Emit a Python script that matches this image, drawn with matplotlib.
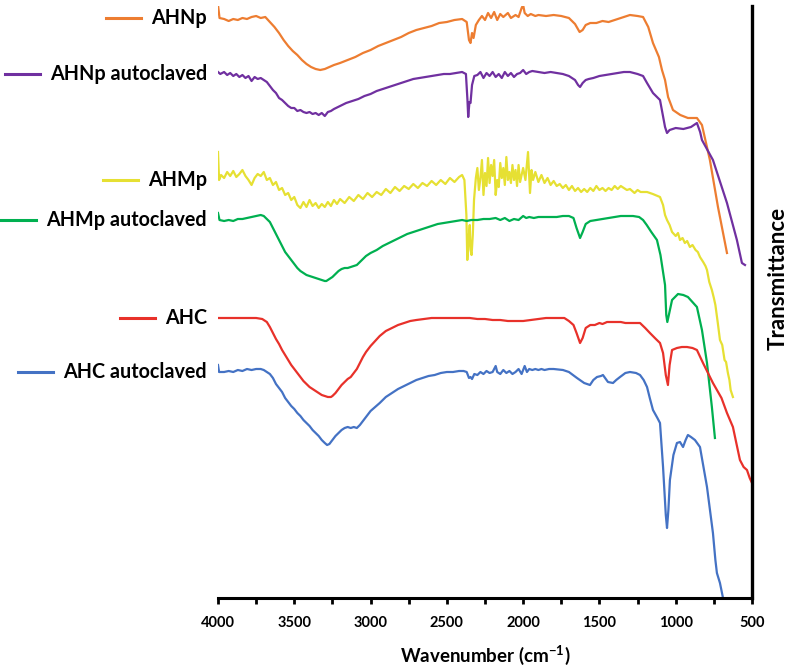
import matplotlib
matplotlib.use("Agg")
import matplotlib.pyplot as plt
import matplotlib.transforms as mtransforms
from matplotlib.lines import Line2D
from matplotlib.ticker import MultipleLocator

plt.rcParams['font.family'] = ['Lato', 'DejaVu Sans']
plt.rcParams['mathtext.fontset'] = 'custom'
plt.rcParams['mathtext.rm'] = 'Lato'
plt.rcParams['mathtext.bf'] = 'Lato:bold'

# ---------------- data (wavenumber cm-1, transmittance arbitrary units) ----------------
ahnp_wn = [4000, 3990, 3960, 3930, 3900, 3870, 3840, 3810, 3780, 3750, 3720, 3690, 3660, 3630, 3600, 3570,
           3540, 3510, 3480, 3450, 3420, 3390, 3360, 3330, 3300, 3270, 3240, 3200, 3150, 3100, 3050, 3000,
           2950, 2900, 2850, 2800, 2750, 2700, 2650, 2600, 2550, 2500, 2450, 2400, 2370, 2355, 2345, 2335,
           2325, 2310, 2290, 2270, 2250, 2230, 2210, 2190, 2170, 2150, 2130, 2100, 2080, 2050, 2030, 2010,
           2000, 1990, 1970, 1950, 1920, 1900, 1850, 1800, 1750, 1700, 1660, 1630, 1610, 1590, 1560, 1520,
           1480, 1440, 1400, 1360, 1320, 1300, 1250, 1214, 1180, 1149, 1110, 1090, 1070, 1050, 1018, 970,
           920, 861, 828, 776, 723, 664]
ahnp_t = [593, 580, 579, 577, 579, 578, 580, 579, 581, 582, 580, 581, 576, 571, 565, 558,
          552, 547, 543, 538, 534, 531, 529, 528, 529, 531, 533, 535, 538, 541, 545, 548,
          552, 555, 558, 561, 565, 568, 570, 572, 575, 576, 578, 579, 576, 558, 555, 565,
          560, 573, 578, 582, 578, 585, 580, 586, 578, 584, 581, 585, 580, 583, 581, 590,
          593, 585, 582, 584, 582, 583, 582, 583, 582, 580, 574, 566, 568, 573, 575, 575,
          577, 576, 578, 580, 582, 583, 582, 581, 571, 555, 541, 528, 518, 501, 488, 483,
          480, 480, 473, 438, 391, 345]

ahnp_auto_wn = [4000, 3985, 3960, 3940, 3920, 3900, 3880, 3860, 3840, 3820, 3800, 3780, 3760, 3740, 3720, 3700,
                3680, 3660, 3640, 3620, 3600, 3580, 3560, 3540, 3520, 3500, 3480, 3460, 3440, 3420, 3400, 3380,
                3360, 3340, 3320, 3300, 3280, 3260, 3240, 3200, 3160, 3120, 3080, 3040, 3000, 2960, 2920, 2880,
                2840, 2800, 2760, 2720, 2680, 2640, 2600, 2560, 2520, 2480, 2440, 2400, 2375, 2365, 2360, 2352,
                2345, 2335, 2320, 2300, 2280, 2260, 2240, 2220, 2200, 2180, 2160, 2140, 2120, 2100, 2080, 2060,
                2040, 2020, 2000, 1980, 1960, 1940, 1900, 1860, 1820, 1780, 1740, 1700, 1660, 1640, 1627, 1610,
                1590, 1570, 1540, 1500, 1460, 1420, 1380, 1340, 1300, 1250, 1214, 1188, 1149, 1103, 1070, 1057,
                1040, 1000, 950, 900, 861, 840, 828, 756, 664, 599, 566, 546]
ahnp_auto_t = [526, 524, 526, 523, 525, 522, 524, 521, 523, 520, 522, 517, 521, 519, 520, 518,
               516, 512, 508, 505, 500, 498, 495, 492, 490, 490, 487, 488, 486, 485, 486, 484,
               485, 483, 485, 482, 486, 487, 489, 492, 495, 497, 499, 502, 504, 507, 509, 511,
               513, 515, 517, 519, 520, 521, 522, 523, 524, 524, 525, 526, 524, 498, 481, 496,
               495, 513, 522, 523, 526, 520, 525, 522, 526, 521, 524, 520, 526, 522, 525, 521,
               524, 525, 528, 524, 526, 527, 526, 525, 526, 525, 524, 522, 518, 513, 511, 515,
               518, 519, 520, 522, 523, 524, 525, 526, 526, 524, 522, 515, 505, 498, 471, 465,
               468, 470, 469, 471, 475, 466, 458, 438, 395, 358, 335, 333]

ahmp_wn = [4000, 3993, 3980, 3960, 3940, 3920, 3900, 3880, 3860, 3840, 3820, 3800, 3780, 3760, 3740, 3720,
           3700, 3680, 3660, 3640, 3620, 3600, 3580, 3560, 3540, 3520, 3500, 3480, 3460, 3440, 3420, 3400,
           3380, 3360, 3340, 3320, 3300, 3280, 3260, 3240, 3220, 3200, 3170, 3140, 3110, 3080, 3050, 3020,
           2990, 2960, 2930, 2900, 2870, 2840, 2810, 2780, 2750, 2720, 2690, 2660, 2630, 2600, 2570, 2540,
           2510, 2480, 2450, 2420, 2400, 2385, 2372, 2366, 2358, 2350, 2345, 2338, 2330, 2322, 2310, 2300,
           2290, 2280, 2270, 2260, 2250, 2240, 2230, 2220, 2210, 2200, 2190, 2180, 2170, 2160, 2150, 2140,
           2130, 2120, 2110, 2100, 2090, 2080, 2070, 2060, 2050, 2040, 2030, 2020, 2010, 2000, 1985, 1968,
           1955, 1945, 1935, 1920, 1900, 1880, 1860, 1840, 1820, 1800, 1780, 1760, 1740, 1720, 1700, 1680,
           1660, 1640, 1620, 1600, 1580, 1560, 1540, 1520, 1500, 1480, 1460, 1440, 1420, 1400, 1380, 1360,
           1340, 1320, 1300, 1270, 1250, 1230, 1188, 1150, 1103, 1083, 1070, 1057, 1040, 1024, 1000, 985,
           972, 955, 940, 925, 907, 890, 870, 855, 841, 820, 805, 795, 780, 763, 750, 740,
           725, 710, 695, 680, 670, 658, 648, 640, 625]
ahmp_t = [446, 418, 423, 420, 426, 422, 427, 421, 424, 428, 422, 418, 413, 420, 424, 422,
          426, 418, 420, 413, 416, 408, 410, 403, 405, 398, 401, 393, 390, 396, 391, 398,
          392, 395, 390, 394, 391, 396, 392, 398, 394, 399, 395, 401, 397, 403, 399, 405,
          401, 406, 403, 409, 405, 411, 407, 412, 409, 414, 410, 415, 412, 417, 413, 418,
          414, 420, 416, 421, 423, 418, 383, 338, 358, 373, 348, 343, 363, 398, 420, 430,
          408, 420, 438, 403, 425, 412, 440, 415, 433, 422, 438, 403, 418, 411, 435, 420,
          430, 413, 441, 418, 426, 415, 433, 418, 428, 412, 433, 416, 423, 430, 418, 446,
          405, 428, 418, 426, 416, 423, 415, 420, 413, 417, 412, 414, 410, 413, 408, 412,
          407, 410, 406, 409, 406, 410, 407, 412, 408, 410, 407, 410, 408, 412, 409, 412,
          410, 408, 409, 405, 408, 406, 406, 404, 401, 393, 383, 378, 373, 366, 362, 365,
          358, 360, 355, 357, 351, 353, 348, 346, 341, 336, 332, 328, 316, 308, 300, 293,
          276, 258, 253, 238, 236, 225, 218, 208, 201]

ahmp_auto_wn = [4000, 3990, 3960, 3930, 3900, 3870, 3840, 3810, 3780, 3750, 3720, 3700, 3680, 3660, 3640, 3620,
                3600, 3580, 3560, 3540, 3520, 3500, 3480, 3460, 3440, 3420, 3400, 3380, 3360, 3340, 3320, 3300,
                3290, 3270, 3250, 3230, 3210, 3190, 3170, 3150, 3130, 3110, 3090, 3070, 3050, 3030, 3000, 2960,
                2920, 2880, 2840, 2800, 2760, 2720, 2680, 2640, 2600, 2560, 2520, 2480, 2440, 2400, 2370, 2340,
                2300, 2260, 2220, 2180, 2150, 2120, 2090, 2060, 2030, 2000, 1980, 1960, 1930, 1900, 1860, 1820,
                1780, 1740, 1700, 1670, 1650, 1627, 1610, 1590, 1560, 1520, 1480, 1440, 1400, 1360, 1320, 1280,
                1240, 1214, 1190, 1160, 1123, 1100, 1085, 1070, 1062, 1055, 1045, 1024, 985, 950, 920, 861,
                828, 795, 763, 743]
ahmp_auto_t = [385, 378, 377, 378, 377, 379, 379, 380, 381, 382, 383, 382, 379, 376, 370, 364,
               358, 352, 346, 342, 338, 334, 330, 327, 325, 323, 322, 321, 320, 319, 318, 317,
               317, 319, 321, 324, 327, 329, 330, 330, 331, 332, 333, 336, 339, 342, 345, 348,
               352, 355, 358, 361, 364, 366, 368, 370, 372, 374, 375, 376, 377, 378, 377, 378,
               378, 379, 379, 380, 378, 380, 377, 379, 378, 382, 380, 381, 380, 381, 381, 381,
               381, 382, 382, 380, 370, 360, 366, 374, 377, 378, 379, 380, 381, 382, 382, 382,
               381, 378, 373, 366, 358, 343, 328, 313, 283, 276, 283, 298, 304, 303, 301, 291,
               268, 235, 191, 160]

ahc_wn = [4000, 3950, 3900, 3850, 3800, 3750, 3710, 3680, 3660, 3640, 3620, 3600, 3580, 3560, 3540, 3520,
          3500, 3480, 3460, 3440, 3420, 3400, 3380, 3360, 3340, 3320, 3300, 3280, 3260, 3250, 3230, 3210,
          3190, 3170, 3150, 3130, 3110, 3090, 3070, 3050, 3030, 3000, 2970, 2940, 2900, 2860, 2820, 2780,
          2740, 2700, 2650, 2600, 2550, 2500, 2450, 2400, 2350, 2300, 2250, 2200, 2150, 2100, 2050, 2000,
          1950, 1900, 1850, 1800, 1760, 1730, 1700, 1670, 1650, 1627, 1610, 1590, 1560, 1530, 1500, 1480,
          1450, 1420, 1390, 1360, 1330, 1300, 1234, 1200, 1169, 1130, 1103, 1083, 1065, 1051, 1040, 1024,
          992, 960, 926, 890, 861, 821, 756, 700, 664, 625, 600, 579, 555, 533, 515, 500]
ahc_t = [280, 280, 280, 280, 280, 280, 279, 276, 271, 265, 259, 254, 248, 243, 238, 233,
         229, 225, 221, 217, 214, 211, 209, 207, 205, 203, 202, 201, 201, 202, 205, 209,
         213, 216, 219, 221, 225, 229, 235, 241, 246, 252, 257, 262, 267, 270, 273, 275,
         277, 278, 279, 280, 280, 280, 280, 280, 280, 279, 279, 278, 278, 277, 277, 277,
         278, 279, 280, 280, 280, 280, 277, 273, 265, 255, 260, 270, 273, 273, 275, 274,
         276, 276, 276, 276, 275, 275, 275, 270, 265, 259, 255, 245, 223, 213, 233, 248,
         250, 251, 251, 250, 248, 235, 215, 200, 185, 171, 153, 138, 131, 128, 120, 115]

ahc_auto_wn = [4000, 3993, 3960, 3930, 3900, 3870, 3840, 3810, 3780, 3750, 3720, 3700, 3680, 3660, 3640, 3620,
               3600, 3580, 3560, 3540, 3520, 3500, 3480, 3460, 3440, 3420, 3400, 3380, 3360, 3340, 3320, 3300,
               3285, 3270, 3250, 3230, 3210, 3190, 3170, 3150, 3130, 3110, 3090, 3070, 3050, 3030, 3000, 2970,
               2940, 2900, 2860, 2820, 2780, 2740, 2700, 2660, 2620, 2580, 2540, 2500, 2460, 2420, 2390, 2370,
               2355, 2345, 2335, 2320, 2300, 2280, 2260, 2240, 2220, 2200, 2180, 2170, 2150, 2130, 2110, 2090,
               2070, 2050, 2030, 2010, 1990, 1975, 1960, 1940, 1920, 1900, 1880, 1860, 1830, 1800, 1739, 1700,
               1647, 1600, 1562, 1540, 1516, 1490, 1477, 1444, 1411, 1390, 1365, 1330, 1300, 1260, 1234, 1210,
               1188, 1170, 1149, 1120, 1103, 1083, 1065, 1057, 1048, 1038, 1015, 992, 972, 952, 935, 920,
               900, 874, 841, 820, 795, 756, 740, 730, 710, 690]
ahc_auto_t = [233, 226, 226, 227, 226, 228, 227, 229, 228, 229, 229, 228, 226, 224, 220, 214,
              210, 206, 200, 196, 192, 189, 185, 182, 178, 175, 172, 168, 165, 162, 158, 155,
              153, 154, 158, 162, 165, 168, 170, 171, 170, 171, 170, 173, 177, 181, 187, 191,
              195, 201, 205, 209, 212, 215, 218, 220, 222, 223, 225, 226, 226, 227, 227, 226,
              220, 221, 219, 224, 223, 226, 224, 227, 225, 226, 232, 226, 224, 228, 225, 227,
              224, 226, 229, 224, 232, 226, 229, 228, 229, 228, 229, 228, 229, 229, 228, 226,
              220, 215, 213, 218, 221, 222, 223, 216, 215, 218, 221, 225, 226, 225, 223, 218,
              211, 200, 188, 180, 175, 131, 83, 70, 88, 118, 143, 155, 156, 151, 158, 163,
              161, 158, 151, 133, 111, 65, 38, 25, 15, 0]

series_labels = ["AHNp", "AHNp autoclaved", "AHMp", "AHMp autoclaved", "AHC", "AHC autoclaved"]
series_wn = [ahnp_wn, ahnp_auto_wn, ahmp_wn, ahmp_auto_wn, ahc_wn, ahc_auto_wn]
series_t = [ahnp_t, ahnp_auto_t, ahmp_t, ahmp_auto_t, ahc_t, ahc_auto_t]
series_colors = ["#ED7D31", "#7030A0", "#E6E033", "#00B050", "#E8312A", "#4472C4"]

xticks = [4000, 3500, 3000, 2500, 2000, 1500, 1000, 500]

# ---------------- figure ----------------
W, H = 790, 668
fig = plt.figure(figsize=(W / 100, H / 100), dpi=100)
ax = fig.add_axes([218 / W, 1 - 598 / H, (752 - 218) / W, (598 - 6) / H])

for wn, t, c in zip(series_wn, series_t, series_colors):
    ax.plot(wn, t, color=c, lw=1.6, solid_joinstyle='round')

ax.set_xlim(4000, 500)
ax.set_ylim(0, 592)
ax.set_xticks(xticks)
ax.xaxis.set_minor_locator(MultipleLocator(250))
ax.set_yticks([])
for s in ['top', 'left']:
    ax.spines[s].set_visible(False)
ax.spines['bottom'].set_linewidth(2.2)
ax.spines['right'].set_linewidth(2.4)
ax.tick_params(axis='x', which='both', direction='out', length=4, width=2, pad=9)
for lab in ax.get_xticklabels():
    lab.set_fontweight('bold')
    lab.set_fontsize(10.5)

ax.set_xlabel(r'Wavenumber (cm$^{\mathbf{-1}}$)', fontsize=13.5, fontweight='bold', labelpad=9)
fig.text(778 / W, 1 - 278 / H, 'Transmittance', rotation=90, ha='center', va='center',
         fontsize=16, fontweight='bold')

# legend-like labels next to each curve start
blend = mtransforms.blended_transform_factory(fig.transFigure, ax.transData)
texts = []
for lab, t in zip(series_labels, series_t):
    txt = fig.text(207 / W, t[1], lab, transform=blend, ha='right', va='center',
                   fontsize=14.2, fontweight='bold')
    texts.append((txt, t[1]))
fig.canvas.draw()
renderer = fig.canvas.get_renderer()
for (txt, yv), c in zip(texts, series_colors):
    bb = txt.get_window_extent(renderer)
    x1 = (bb.x0 - 10) / W
    x0 = (bb.x0 - 45) / W
    fig.add_artist(Line2D([x0, x1], [yv, yv], transform=blend, color=c, lw=2.2))

fig.savefig('out.png', dpi=100)
